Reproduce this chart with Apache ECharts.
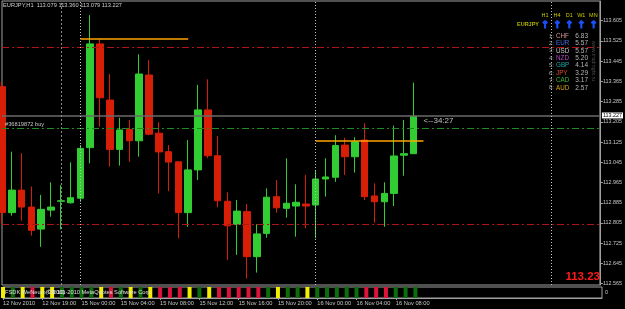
<!DOCTYPE html>
<html>
<head>
<meta charset="utf-8">
<title>EURJPY,H1</title>
<script src="https://cdn.jsdelivr.net/npm/echarts@6/dist/echarts.min.js"></script>
<style>
html, body { margin: 0; padding: 0; background: #000; }
#main { width: 625px; height: 309px; }
</style>
</head>
<body>
<div id="main"></div>
<script>
// EURJPY H1, 12 Nov 15:00 .. 16 Nov 10:00 (43 bars)
var days = [['12 Nov', 15, 22], ['15 Nov', 0, 23], ['16 Nov', 0, 10]];
var open = [113.344,112.846,112.935,112.868,112.781,112.856,112.891,112.885,112.903,113.103,
            113.513,113.291,113.096,113.175,113.130,113.390,113.160,113.087,113.047,112.846,
            113.015,113.252,113.071,112.891,112.800,112.850,112.672,112.764,112.909,112.863,
            112.872,112.880,112.876,112.979,112.986,113.113,113.067,113.133,112.912,112.889,
            112.922,113.073,113.079];
var close = [112.846,112.935,112.868,112.776,112.859,112.868,112.893,112.905,113.100,113.513,
             113.300,113.096,113.173,113.130,113.394,113.156,113.086,113.046,112.846,113.015,
             113.252,113.071,112.893,112.794,112.852,112.672,112.762,112.907,112.865,112.883,
             112.887,112.872,112.979,112.987,113.111,113.067,113.126,112.909,112.889,112.922,
             113.070,113.079,113.227];
var low = [112.804,112.834,112.814,112.755,112.711,112.830,112.780,112.882,112.889,113.041,
           113.186,113.028,113.032,113.047,113.067,113.152,112.922,112.931,112.745,112.790,
           112.975,113.061,112.867,112.659,112.679,112.586,112.609,112.747,112.846,112.826,
           112.751,112.784,112.745,112.909,112.968,112.995,113.004,112.896,112.806,112.790,
           112.872,112.992,113.079];
var high = [113.364,113.087,113.081,112.949,112.916,112.966,112.955,113.045,113.113,113.627,
            113.531,113.394,113.221,113.212,113.472,113.449,113.204,113.113,113.047,113.133,
            113.351,113.373,113.149,112.926,112.896,112.880,112.800,112.942,112.975,113.061,
            112.958,112.995,113.011,113.061,113.152,113.142,113.144,113.199,112.962,112.966,
            113.190,113.212,113.360];
// indicator strip: Y yellow, G green, R red
var trend = ['Y','G','Y','R','Y','Y','G','G','G','G',
             'Y','R','G','Y','G','Y','R','R','R','Y',
             'G','Y','R','R','R','R','R','G','Y','G',
             'G','Y','G','G','G','G','G','R','R','R',
             'G','G','G'];
var priceTicks = [112.565,112.645,112.725,112.805,112.885,112.965,113.045,113.125,113.205,
                  113.285,113.365,113.445,113.525,113.605];
var bid = 113.227;
var redLevels = [113.499, 112.801];
var orderLevel = 113.183;
var orangeSegs = [[8, 19, 113.533], [32, 43, 113.129]];
var separators = [6, 8, 32, 56];
var tfNames = ['H1', 'H4', 'D1', 'W1', 'MN'];
var currencies = ['CHF','EUR','USD','NZD','GBP','JPY','CAD','AUD'];
var strength = [6.83, 5.57, 5.57, 5.20, 4.14, 3.29, 3.17, 2.57];
var curColors = ['#d89a9a','#4a6ee0','#c8c8c8','#b048c8','#20a8a8','#e04a28','#3cb43c','#d0a010'];

var FONT = '"Liberation Sans", Arial, sans-serif';
var times = [];
days.forEach(function (d) {
    for (var h = d[1]; h <= d[2]; h++) times.push(d[0] + ' ' + (h < 10 ? '0' : '') + h + ':00');
});
var cats = times.slice();
for (var i = times.length; i < 62; i++) cats.push('f' + i);

var candles = open.map(function (o, i) { return [o, close[i], low[i], high[i]]; });
var trendColors = { Y: '#f0f000', G: '#0b6e0b', R: '#dc143c' };

var dashDot = [7, 3, 2, 3];
var lines = [];
redLevels.forEach(function (v) {
    lines.push({ yAxis: v, lineStyle: { color: '#b01414', type: dashDot, width: 1 } });
});
lines.push({ yAxis: orderLevel, lineStyle: { color: '#1e8c1e', type: dashDot, width: 1 },
    label: { show: true, formatter: '#36819872 buy', position: 'insideStartTop', distance: [3, 1],
        color: '#c8c8c8', fontSize: 5.7, fontFamily: FONT } });
lines.push({ yAxis: bid, lineStyle: { color: '#6a6a6a', type: 'solid', width: 1.5 },
    label: { show: true, formatter: bid.toFixed(3), position: 'end', distance: 2,
        backgroundColor: '#fff', color: '#000', padding: [1, 1, 0, 1], fontSize: 5.4, fontFamily: FONT } });
orangeSegs.forEach(function (s) {
    lines.push([{ coord: [s[0], s[2]], lineStyle: { color: '#ffa500', type: 'solid', width: 1.5 } },
                { coord: [s[1], s[2]] }]);
});
separators.forEach(function (x, k) {
    lines.push({ xAxis: x, lineStyle: { color: k === 0 ? '#8a8a8a' : '#c0c0c0',
        type: k === 0 ? [2, 2] : [1, 2], width: 1 } });
});

function txt(x, y, s, color, font, align, extra) {
    var el = { type: 'text', x: x, y: y, silent: true, z: 10,
        style: { text: s, fill: color, font: font.indexOf('"') >= 0 ? font : font + ' ' + FONT,
            align: align || 'left', verticalAlign: 'middle' } };
    if (extra) for (var k in extra) el[k] = extra[k];
    return el;
}
var graphics = [];
graphics.push(txt(605, 293, '0', '#c8c8c8', '5.4px'));
graphics.push(txt(600, 277, '113.23', '#ff1a1a', 'bold 11.5px', 'right'));
graphics.push(txt(517, 24, 'EURJPY', '#b4b400', 'bold 5.5px'));
tfNames.forEach(function (n, i) {
    graphics.push(txt(545 + i * 12.1, 15, n, '#c8c800', '5.5px', 'center'));
    var arrow = txt(545 + i * 12.1, 25, '\u2191', '#1a50ff', 'bold 10px "DejaVu Sans"', 'center');
    arrow.style.stroke = '#1a50ff';
    arrow.style.lineWidth = 0.9;
    graphics.push(arrow);
});
currencies.forEach(function (c, i) {
    var y = 36 + i * 7.4;
    graphics.push(txt(554, y, (i + 1) + ':', '#a8a8a8', '6px', 'right'));
    graphics.push(txt(556, y, c, curColors[i], '6.3px'));
    graphics.push(txt(588, y, strength[i].toFixed(2), '#b4b4b4', '6.5px', 'right'));
});
graphics.push(txt(594, 61, 'www.tradingfx.ru', '#4a4a4a', '5.5px', 'center', { rotation: -Math.PI / 2 }));
graphics.push(txt(5, 292, 'FSDK WeNeuro(CB 10)', '#e0e0e0', '5.7px'));
graphics.push(txt(47, 292, '\u00a9 2001-2010 MetaQuotes Software Corp.', '#e0e0e0', '5.7px'));

var chart = echarts.init(document.getElementById('main'));
var option = {
    backgroundColor: '#000',
    animation: false,
    title: {
        text: 'EURJPY,H1  113.079 113.360 113.079 113.227',
        left: 3, top: 2, padding: 0,
        textStyle: { color: '#d0d0d0', fontSize: 5.7, fontWeight: 'normal', fontFamily: FONT }
    },
    grid: [
        { left: 2, right: 23, top: 1, height: 284, show: true, borderColor: '#a0a0a0', borderWidth: 1 },
        { left: 2, right: 23, top: 287, height: 11, show: true, borderColor: '#a0a0a0', borderWidth: 1 }
    ],
    xAxis: [{
        type: 'category', data: cats, boundaryGap: false, gridIndex: 0,
        axisLine: { show: false }, axisTick: { show: false }, axisLabel: { show: false }, splitLine: { show: false }
    }, {
        type: 'category', data: cats, boundaryGap: false, gridIndex: 1,
        axisLine: { show: true, lineStyle: { color: '#a0a0a0' } },
        axisTick: { show: true, length: 2, lineStyle: { color: '#a0a0a0' },
            interval: function (i) { return i % 4 === 0 && i < times.length; } },
        axisLabel: {
            interval: function (i) { return i % 4 === 0 && i < times.length; },
            formatter: function (v, i) { return i === 0 ? '12 Nov 2010' : v; },
            align: 'left', margin: 2, color: '#c8c8c8', fontSize: 5.7, fontFamily: FONT
        },
        splitLine: { show: false }
    }],
    yAxis: [{
        type: 'value', gridIndex: 0, position: 'right', scale: true,
        min: 112.560, max: 113.6825,
        axisLine: { show: true, lineStyle: { color: '#a0a0a0' } },
        axisTick: { show: true, length: 3, customValues: priceTicks, lineStyle: { color: '#a0a0a0' } },
        axisLabel: { customValues: priceTicks, margin: 3, color: '#c8c8c8', fontSize: 5.4, fontFamily: FONT,
            formatter: function (v) { return v.toFixed(3); } },
        splitLine: { show: false }
    }, {
        type: 'value', gridIndex: 1, min: 0, max: 1, show: false
    }],
    series: [{
        type: 'candlestick',
        xAxisIndex: 0, yAxisIndex: 0,
        data: candles,
        barWidth: 7,
        itemStyle: { color: '#32cd32', color0: '#d81e06', borderColor: '#32cd32', borderColor0: '#d81e06', borderWidth: 1 },
        markLine: { silent: true, symbol: ['none', 'none'], label: { show: false }, data: lines },
        markPoint: {
            silent: true,
            data: [{ coord: [43, 113.210], symbolSize: 0,
                label: { show: true, position: 'right', distance: 0, formatter: '<--34:27',
                    color: '#c0c0c0', fontSize: 8, fontFamily: FONT } }]
        }
    }, {
        type: 'bar',
        xAxisIndex: 1, yAxisIndex: 1,
        barWidth: 4,
        data: trend.map(function (s) { return { value: 1, itemStyle: { color: trendColors[s] } }; })
    }],
    graphic: graphics
};
chart.setOption(option);
</script>
</body>
</html>
